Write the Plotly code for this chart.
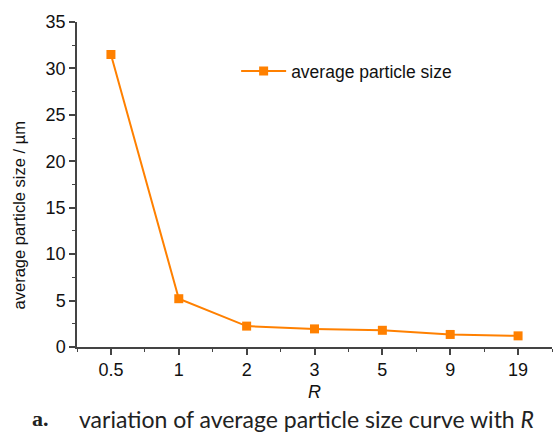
import plotly.graph_objects as go

# R values (categorical axis) and measured average particle size (µm)
r_labels = ["0.5", "1", "2", "3", "5", "9", "19"]
avg_size = [31.5, 5.2, 2.25, 1.95, 1.8, 1.35, 1.2]

y_ticks = [0, 5, 10, 15, 20, 25, 30, 35]

orange = "#ff8000"
axis_col = "#444444"
sans = "Liberation Sans, Arial"
tick_font = dict(family=sans, size=18, color="#111111")

fig = go.Figure()
fig.add_trace(go.Scatter(
    x=list(range(len(r_labels))), y=avg_size,
    mode="lines+markers",
    name="average particle size",
    line=dict(color=orange, width=2),
    marker=dict(symbol="square", size=9, color=orange),
))

fig.update_layout(
    width=556, height=437,
    margin=dict(l=77, r=4, t=22, b=90),
    paper_bgcolor="white", plot_bgcolor="white",
    showlegend=True,
    legend=dict(x=0.335, y=0.849, xanchor="left", yanchor="middle",
                bgcolor="rgba(0,0,0,0)",
                font=dict(family=sans, size=17.5, color="#111111"),
                itemwidth=45),
    xaxis=dict(
        range=[-0.5, 6.5],
        tickmode="array", tickvals=list(range(len(r_labels))), ticktext=r_labels,
        ticks="outside", ticklen=6, tickwidth=1.5, tickcolor=axis_col,
        showline=True, linecolor=axis_col, linewidth=1.5,
        showgrid=False, zeroline=False,
        tickfont=tick_font,
        minor=dict(tickmode="array", tickvals=[i + 0.5 for i in range(-1, 7)],
                   ticks="outside", ticklen=3, tickwidth=1, tickcolor=axis_col),
        title=dict(text="<i>R</i>", font=dict(family=sans, size=18, color="#111111"),
                   standoff=6),
    ),
    yaxis=dict(
        range=[0, 35],
        tickmode="array", tickvals=y_ticks,
        ticks="outside", ticklen=6, tickwidth=1.5, tickcolor=axis_col,
        showline=True, linecolor=axis_col, linewidth=1.5,
        showgrid=False, zeroline=False,
        tickfont=tick_font,
        minor=dict(dtick=2.5, ticks="outside", ticklen=3, tickwidth=1, tickcolor=axis_col),
    ),
)

# Y-axis title, placed slightly below the plot's vertical centre
fig.add_annotation(
    xref="paper", yref="paper", x=-0.122, y=0.405, xanchor="center", yanchor="middle",
    text="average particle size / µm", textangle=-90, showarrow=False,
    font=dict(family=sans, size=16.5, color="#111111"),
)

# Figure caption below the plot
fig.add_annotation(
    xref="paper", yref="paper", x=-0.055, y=-0.22, xanchor="right", yanchor="middle",
    text="<b>a.</b>", showarrow=False,
    font=dict(family="Liberation Serif", size=22, color="#222222"),
)
fig.add_annotation(
    xref="paper", yref="paper", x=0.0, y=-0.22, xanchor="left", yanchor="middle",
    text="variation of average particle size curve with <i>R</i>", showarrow=False,
    font=dict(family="Lato", size=23, color="#222222"),
)

fig.write_html("out.html")
